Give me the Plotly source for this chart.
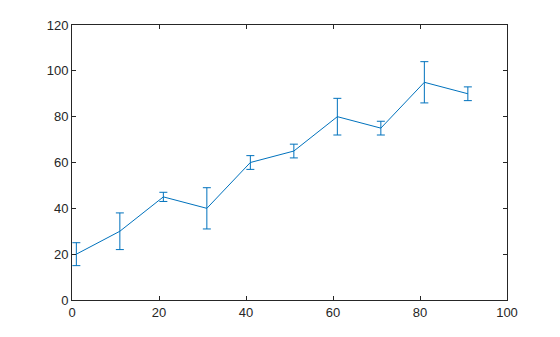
import plotly.graph_objects as go

x_vals = [1, 11, 21, 31, 41, 51, 61, 71, 81, 91]
y_vals = [20, 30, 45, 40, 60, 65, 80, 75, 95, 90]
err_vals = [5, 8, 2, 9, 3, 3, 8, 3, 9, 3]

x_ticks = [0, 20, 40, 60, 80, 100]
y_ticks = [0, 20, 40, 60, 80, 100, 120]

color = "#0072bd"

fig = go.Figure()
fig.add_trace(go.Scatter(
    x=x_vals, y=y_vals, mode="lines",
    line=dict(color=color, width=1),
    error_y=dict(type="data", array=err_vals, visible=True,
                 color=color, thickness=1, width=4),
    showlegend=False,
))

axis_common = dict(
    showgrid=False, zeroline=False, showline=True, mirror="ticks",
    linecolor="#262626", linewidth=1, ticks="inside", ticklen=4,
    tickcolor="#262626", tickwidth=1,
    tickfont=dict(family="Liberation Sans, Arial, sans-serif", size=13, color="#262626"),
)

fig.update_layout(
    width=560, height=337,
    margin=dict(l=72, r=53, t=25, b=37),
    paper_bgcolor="white", plot_bgcolor="white",
    xaxis=dict(range=[0, 100], tickvals=x_ticks, **axis_common),
    yaxis=dict(range=[0, 120], tickvals=y_ticks, **axis_common),
)

fig.write_html("out.html")
